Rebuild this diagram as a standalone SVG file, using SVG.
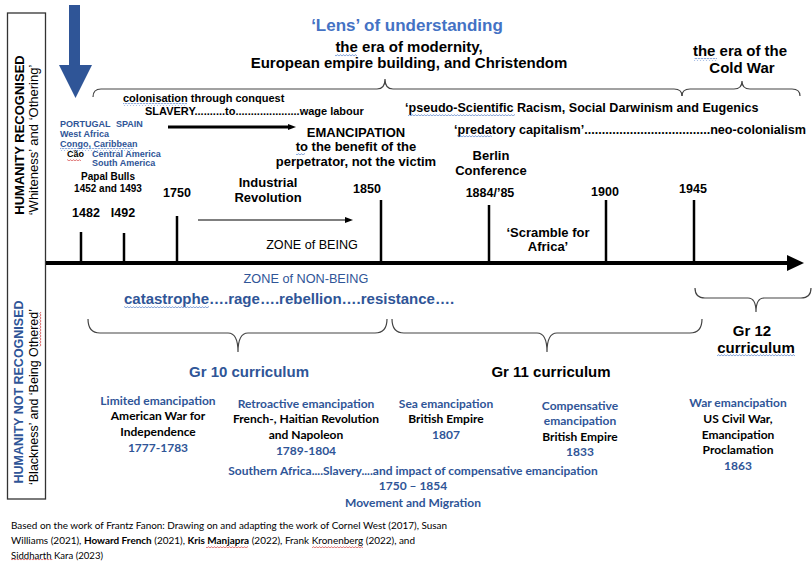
<svg xmlns="http://www.w3.org/2000/svg" width="812" height="561" viewBox="0 0 812 561">
<style>
text{font-family:"Liberation Sans",Arial,sans-serif;fill:#000}
.b{font-weight:bold}
.m{text-anchor:middle}
.blue{fill:#2F5597}
.lblue{fill:#4472C4}
.yr{font-weight:bold;font-size:12.5px;text-anchor:middle}
.tick{stroke:#000;stroke-width:2.5;fill:none}
.brace{stroke:#444;stroke-width:1.2;fill:none}
.cal{font-family:Lato,"Noto Sans",sans-serif;font-weight:bold;font-size:12px;text-anchor:middle}
.foot{font-family:Lato,"Noto Sans",sans-serif;font-size:10px}
.sqb{fill:url(#wb)}
.sqr{fill:url(#wr)}
</style>
<defs>
<pattern id="wb" width="3" height="3" patternUnits="userSpaceOnUse"><path d="M0,2.2 L1.5,0.6 L3,2.2" stroke="#4472C4" stroke-width="0.7" fill="none"/></pattern>
<pattern id="wr" width="3" height="3" patternUnits="userSpaceOnUse"><path d="M0,2.2 L1.5,0.6 L3,2.2" stroke="#D03030" stroke-width="0.7" fill="none"/></pattern>
<marker id="ahBig" markerWidth="8" markerHeight="6" refX="1" refY="3" orient="auto" markerUnits="userSpaceOnUse"><path d="M0,0 L8,3 L0,6 z" fill="#000"/></marker>
<marker id="ahSmall" markerWidth="8" markerHeight="6" refX="1" refY="3" orient="auto" markerUnits="userSpaceOnUse"><path d="M0,0 L8,3 L0,6 z" fill="#000"/></marker>
</defs>
<rect width="812" height="561" fill="#fff"/>

<g id="side-box">
<rect x="7.5" y="13" width="38" height="486" fill="none" stroke="#333" stroke-width="1.3"/>
<text class="b m" font-size="13" transform="translate(24,135) rotate(-90)">HUMANITY RECOGNISED</text>
<text class="m" font-size="13" transform="translate(38,140) rotate(-90)">‘Whiteness’ and ‘Othering’</text>
<text class="b m blue" font-size="12.5" transform="translate(23,392) rotate(-90)">HUMANITY NOT RECOGNISED</text>
<text class="m" font-size="12.5" transform="translate(37.5,397) rotate(-90)">‘Blackness’ and ‘Being Othered’</text>
<path d="M41,312 l-1.2,1.5 l1.2,1.5 l-1.2,1.5 l1.2,1.5 l-1.2,1.5 l1.2,1.5 l-1.2,1.5 l1.2,1.5 l-1.2,1.5 l1.2,1.5 l-1.2,1.5 l1.2,1.5 l-1.2,1.5 l1.2,1.5 l-1.2,1.5 l1.2,1.5 l-1.2,1.5 l1.2,1.5 l-1.2,1.5 l1.2,1.5 l-1.2,1.5 l1.2,1.5 l-1.2,1.5" stroke="#D03030" stroke-width="0.7" fill="none"/>
</g>

<g id="down-arrow">
<polygon points="69,5 80,5 80,65 92,65 75.5,98 59,65 69,65" fill="#2F5597"/>
</g>

<g id="title">
<text class="b m lblue" font-size="17" x="407" y="31">‘Lens’ of understanding</text>
<text class="b m" font-size="15" x="409" y="52">the era of modernity,</text>
<text class="b m" font-size="15" x="409" y="68">European empire building, and Christendom</text>
<rect class="sqb" x="335" y="54" width="22" height="3"/>
</g>

<g id="cold-war">
<text class="b m" font-size="15" x="740" y="56">the era of the</text>
<text class="b m" font-size="15" x="742" y="73">Cold War</text>
<rect class="sqb" x="694" y="58" width="23" height="3"/>
</g>

<g id="places">
<text class="b blue" font-size="9" x="60" y="127">PORTUGAL<tspan x="116">SPAIN</tspan></text>
<text class="b blue" font-size="9" x="60" y="137">West Africa</text>
<text class="b blue" font-size="9" x="60" y="147">Congo, Caribbean</text>
<text class="b" font-size="9" x="67" y="157" fill="#333">Cão</text>
<text class="b blue" font-size="9" x="92" y="157">Central America</text>
<text class="b blue" font-size="9" x="92" y="166">South America</text>
<rect class="sqb" x="60" y="148" width="74" height="3"/>
<rect class="sqr" x="67" y="158" width="14" height="3"/>
<text class="b m" font-size="10" x="108" y="180">Papal Bulls</text>
<text class="b m" font-size="10" x="108" y="192">1452 and 1493</text>
</g>

<g id="colonisation">
<text class="b" font-size="11" x="123" y="102">colonisation through conquest</text>
<text class="b" font-size="11" x="145" y="115">SLAVERY..........to.....................wage labour</text>
<rect class="sqb" x="123" y="103" width="64" height="3"/>
</g>

<g id="emancipation">
<text class="b m" font-size="13" x="356" y="137">EMANCIPATION</text>
<text class="b m" font-size="13" x="356" y="151">to the benefit of the</text>
<text class="b m" font-size="13" x="356" y="166">perpetrator, not the victim</text>
<rect class="sqb" x="296" y="152" width="9" height="3"/>
</g>

<g id="racism">
<text class="b" font-size="12.6" x="405" y="112">‘pseudo-Scientific Racism, Social Darwinism and Eugenics</text>
<text class="b" font-size="12.6" x="454" y="134">‘predatory capitalism’....................................neo-colonialism</text>
<rect class="sqb" x="408" y="113" width="107" height="3"/>
<rect class="sqb" x="457" y="135" width="35" height="3"/>
</g>

<g id="berlin">
<text class="b m" font-size="13" x="491" y="160">Berlin</text>
<text class="b m" font-size="13" x="491" y="175">Conference</text>
</g>

<g id="industrial">
<text class="b m" font-size="13" x="268" y="187">Industrial</text>
<text class="b m" font-size="13" x="268" y="202">Revolution</text>
</g>

<g id="years">
<text class="yr" x="86" y="217">1482</text>
<text class="yr" x="123" y="217">I492</text>
<text class="yr" x="177" y="197">1750</text>
<text class="yr" x="367" y="193">1850</text>
<text class="yr" x="490" y="197">1884/’85</text>
<text class="yr" x="605" y="196">1900</text>
<text class="yr" x="693" y="193">1945</text>
</g>

<g id="zones">
<text class="m" font-size="12.6" x="312" y="249">ZONE of BEING</text>
<text class="m blue" font-size="12.7" x="306" y="283">ZONE of NON-BEING</text>
<text class="b blue" font-size="15" x="124" y="304">catastrophe….rage….rebellion….resistance….</text>
<rect class="sqb" x="124" y="305" width="85" height="3"/>
</g>

<g id="scramble">
<text class="b m" font-size="13" x="548" y="237">‘Scramble for</text>
<text class="b m" font-size="13" x="548" y="251">Africa’</text>
</g>

<g id="connectors">
<line x1="46" y1="263" x2="789" y2="263" stroke="#000" stroke-width="4"/>
<polygon points="787,255 804,263 787,271" fill="#000"/>
<line class="tick" x1="81" y1="232" x2="81" y2="263"/>
<line class="tick" x1="124" y1="233" x2="124" y2="263"/>
<line class="tick" x1="177" y1="216" x2="177" y2="263"/>
<line class="tick" x1="381" y1="200" x2="381" y2="263"/>
<line class="tick" x1="489" y1="205" x2="489" y2="263"/>
<line class="tick" x1="606" y1="200" x2="606" y2="263"/>
<line class="tick" x1="694" y1="200" x2="694" y2="263"/>
<line x1="168" y1="127" x2="289" y2="127" stroke="#000" stroke-width="3" marker-end="url(#ahBig)"/>
<line x1="198" y1="220" x2="346" y2="220" stroke="#000" stroke-width="1.2" marker-end="url(#ahSmall)"/>
<path class="brace" d="M93,97 Q93,89 101,89 L377,89 Q385,89 385,79 Q385,89 393,89 L674,89 Q682,89 682,96"/>
<path class="brace" d="M682,96 Q682,89 690,89 L734,89 Q742,89 742,81 Q742,89 750,89 L792,89 Q800,89 800,96"/>
<path class="brace" d="M88,319 Q88,333 100,333 L228,333 Q238,333 238,352 Q238,333 248,333 L375,333 Q387,333 387,319"/>
<path class="brace" d="M392,319 Q392,333 404,333 L537,333 Q547,333 547,352 Q547,333 557,333 L690,333 Q702,333 702,319"/>
<path class="brace" d="M695,288 Q695,298 705,298 L748,298 Q756,298 756,312 Q756,298 764,298 L801,298 Q811,298 811,288"/>
</g>

<g id="grades">
<text class="b m blue" font-size="15" x="249" y="377">Gr 10 curriculum</text>
<text class="b m" font-size="15" x="551" y="377">Gr 11 curriculum</text>
<text class="b m" font-size="15" x="752" y="336">Gr 12</text>
<text class="b m" font-size="15" x="756" y="353">curriculum</text>
<rect class="sqb" x="717" y="354" width="78" height="3"/>
</g>

<g id="limited">
<text class="cal blue" x="158" y="405">Limited emancipation</text>
<text class="cal" x="158" y="420">American War for</text>
<text class="cal" x="158" y="436">Independence</text>
<text class="cal blue" x="158" y="452">1777-1783</text>
</g>
<g id="retroactive">
<text class="cal blue" x="306" y="408">Retroactive emancipation</text>
<text class="cal" x="306" y="423">French-, Haitian Revolution</text>
<text class="cal" x="306" y="439">and Napoleon</text>
<text class="cal blue" x="306" y="455">1789-1804</text>
</g>
<g id="southern">
<text class="cal blue" x="413" y="475">Southern Africa....Slavery....and impact of compensative emancipation</text>
<text class="cal blue" x="413" y="490">1750 – 1854</text>
<text class="cal blue" x="413" y="507">Movement and Migration</text>
</g>
<g id="sea">
<text class="cal blue" x="446" y="408">Sea emancipation</text>
<text class="cal" x="446" y="423">British Empire</text>
<text class="cal blue" x="446" y="439">1807</text>
</g>
<g id="compensative">
<text class="cal blue" x="580" y="410">Compensative</text>
<text class="cal blue" x="580" y="425">emancipation</text>
<text class="cal" x="580" y="441">British Empire</text>
<text class="cal blue" x="580" y="456">1833</text>
</g>
<g id="war">
<text class="cal blue" x="738" y="407">War emancipation</text>
<text class="cal" x="738" y="423">US Civil War,</text>
<text class="cal" x="738" y="439">Emancipation</text>
<text class="cal" x="738" y="454">Proclamation</text>
<text class="cal blue" x="738" y="470">1863</text>
</g>

<g id="footer">
<text class="foot" x="11" y="529" textLength="436" lengthAdjust="spacingAndGlyphs">Based on the work of Frantz Fanon: Drawing on and adapting the work of Cornel West (2017), Susan</text>
<text class="foot" x="11" y="544" textLength="404" lengthAdjust="spacingAndGlyphs">Williams (2021), <tspan font-weight="bold">Howard French</tspan> (2021), <tspan font-weight="bold">Kris Manjapra</tspan> (2022), Frank Kronenberg (2022), and</text>
<text class="foot" x="11" y="559" textLength="92" lengthAdjust="spacingAndGlyphs">Siddharth Kara (2023)</text>
<rect class="sqr" x="206" y="545" width="42" height="3"/>
<rect class="sqr" x="312" y="545" width="51" height="3"/>
<rect class="sqr" x="11" y="559" width="42" height="2"/>
</g>
</svg>
